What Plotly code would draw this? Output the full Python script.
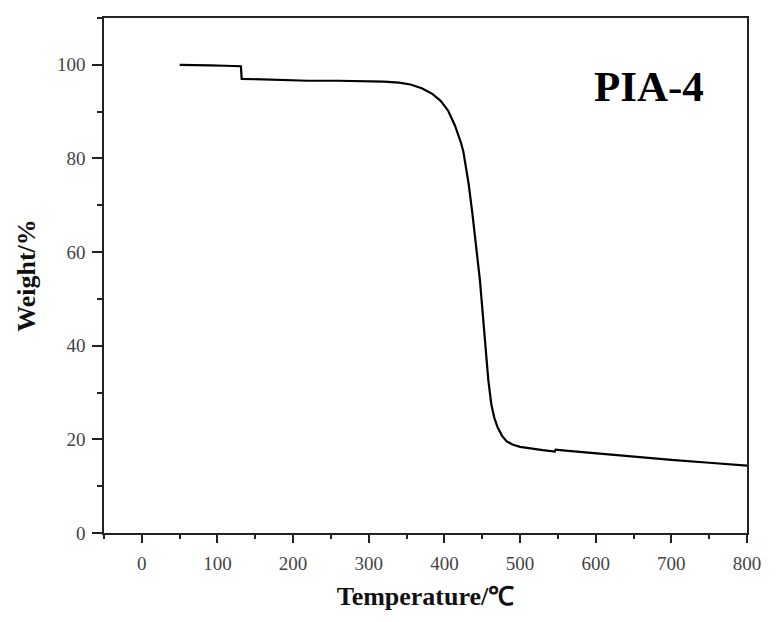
import plotly.graph_objects as go

temperature = [50, 70, 90, 110, 131, 132, 150, 180, 220, 260, 300, 320, 340, 355, 370,
               384, 395, 405, 414, 419, 422, 425, 428, 432, 437, 443, 447, 451, 454, 458,
               462, 466, 470, 476, 482, 490, 500, 515, 530, 546, 547, 560, 600, 650, 700, 750, 800]
weight = [100.0, 100.0, 99.9, 99.8, 99.7, 97.0, 96.9, 96.7, 96.6, 96.6, 96.5, 96.4, 96.2, 95.8, 95.0,
          93.8, 92.3, 90.2, 87.0, 84.9, 83.3, 81.5, 78.8, 74.6, 68.2, 60.3, 53.9, 46.2, 39.9, 32.7,
          27.5, 24.6, 22.7, 20.8, 19.6, 18.9, 18.4, 18.0, 17.7, 17.4, 17.8, 17.6, 17.0, 16.3, 15.6, 15.0, 14.4]

x_ticks = [0, 100, 200, 300, 400, 500, 600, 700, 800]
y_ticks = [0, 20, 40, 60, 80, 100]
label = "PIA-4"

serif = "Liberation Serif, Times New Roman, serif"

fig = go.Figure()
fig.add_trace(go.Scatter(x=temperature, y=weight, mode="lines",
                         line=dict(color="#000000", width=2.2),
                         showlegend=False))

axis_common = dict(showline=True, linecolor="#222222", linewidth=1.6, mirror=True,
                   showgrid=False, zeroline=False, ticks="outside",
                   tickwidth=1.5, tickcolor="#222222",
                   tickfont=dict(family=serif, size=19, color="#444444"))

fig.update_layout(
    width=761, height=606,
    margin=dict(l=96, r=16, t=8, b=74),
    paper_bgcolor="white", plot_bgcolor="white",
    xaxis=dict(range=[-50, 800], tickvals=x_ticks, ticklen=8, ticklabelstandoff=4,
               minor=dict(dtick=50, tick0=-50, ticks="outside", ticklen=4, tickcolor="#222222"),
               title=dict(text="<b>Temperature/℃</b>", font=dict(family=serif, size=26, color="#111111"),
                          standoff=14),
               **axis_common),
    yaxis=dict(range=[0, 110], tickvals=y_ticks, ticklen=10, ticklabelstandoff=3,
               minor=dict(dtick=10, tick0=0, ticks="outside", ticklen=5, tickcolor="#222222"),
               title=dict(text="<b>Weight/%</b>", font=dict(family=serif, size=26, color="#111111"),
                          standoff=14),
               **axis_common),
)

fig.add_annotation(x=670, y=95.3, xref="x", yref="y", text="<b>" + label + "</b>",
                   showarrow=False, font=dict(family=serif, size=43, color="#000000"))

fig.write_html("out.html")
